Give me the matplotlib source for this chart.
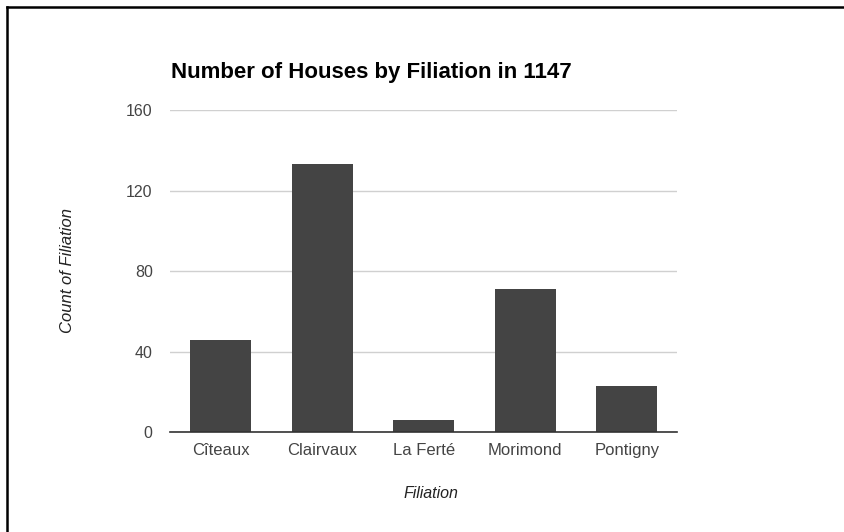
import matplotlib
matplotlib.use("Agg")
import matplotlib.pyplot as plt
from matplotlib.lines import Line2D

categories = ["Cîteaux", "Clairvaux", "La Ferté", "Morimond", "Pontigny"]
counts = [46, 133, 6, 71, 23]
yticks = [0, 40, 80, 120, 160]

plt.rcParams['font.family'] = ['Liberation Sans', 'DejaVu Sans']

W, H = 845, 532
fig = plt.figure(figsize=(W / 100, H / 100), dpi=100)
ax = fig.add_axes([170 / W, 1 - 432.3 / H, (677.5 - 170) / W, (432.3 - 110) / H])

x = list(range(len(categories)))
ax.bar(x, counts, width=0.6, color="#444444", zorder=3)
ax.set_xlim(-0.5, len(categories) - 0.5)
ax.set_ylim(0, 160)
ax.set_yticks(yticks)
ax.set_yticklabels([str(v) for v in yticks])
ax.set_xticks(x)
ax.set_xticklabels(categories)
ax.grid(axis="y", color="#d0d0d0", linewidth=1, zorder=0)
for s in ["top", "right", "left"]:
    ax.spines[s].set_visible(False)
ax.spines["bottom"].set_color("#333333")
ax.spines["bottom"].set_linewidth(1.2)
ax.spines["bottom"].set_zorder(4)
ax.tick_params(axis="both", length=0, labelsize=12, colors="#444444")
ax.tick_params(axis="y", labelsize=11.5, pad=12.5)
ax.tick_params(axis="x", pad=8)

ax.set_xlabel("Filiation", fontstyle="italic", fontsize=11.5, color="#222222")
ax.xaxis.set_label_coords((431 - 170) / (677.5 - 170), -(494 - 432.3) / (432.3 - 110), transform=ax.transAxes)
ax.xaxis.label.set_va("center")
ax.set_ylabel("Count of Filiation", fontstyle="italic", fontsize=12, color="#222222")
ax.yaxis.set_label_coords(-(170 - 68) / (677.5 - 170), (432.3 - 270) / (432.3 - 110), transform=ax.transAxes)
ax.yaxis.label.set_va("center")

fig.text(171 / W, 1 - 78.5 / H, "Number of Houses by Filiation in 1147", fontsize=16,
         fontweight="bold", color="#000000", ha="left", va="baseline")

# partial border (left and top)
fig.add_artist(Line2D([7 / W, 7 / W], [0, 1 - 7 / H], transform=fig.transFigure, color="black", linewidth=1.8))
fig.add_artist(Line2D([7 / W, 1], [1 - 7 / H, 1 - 7 / H], transform=fig.transFigure, color="black", linewidth=1.8))

fig.savefig("out.png", dpi=100)
